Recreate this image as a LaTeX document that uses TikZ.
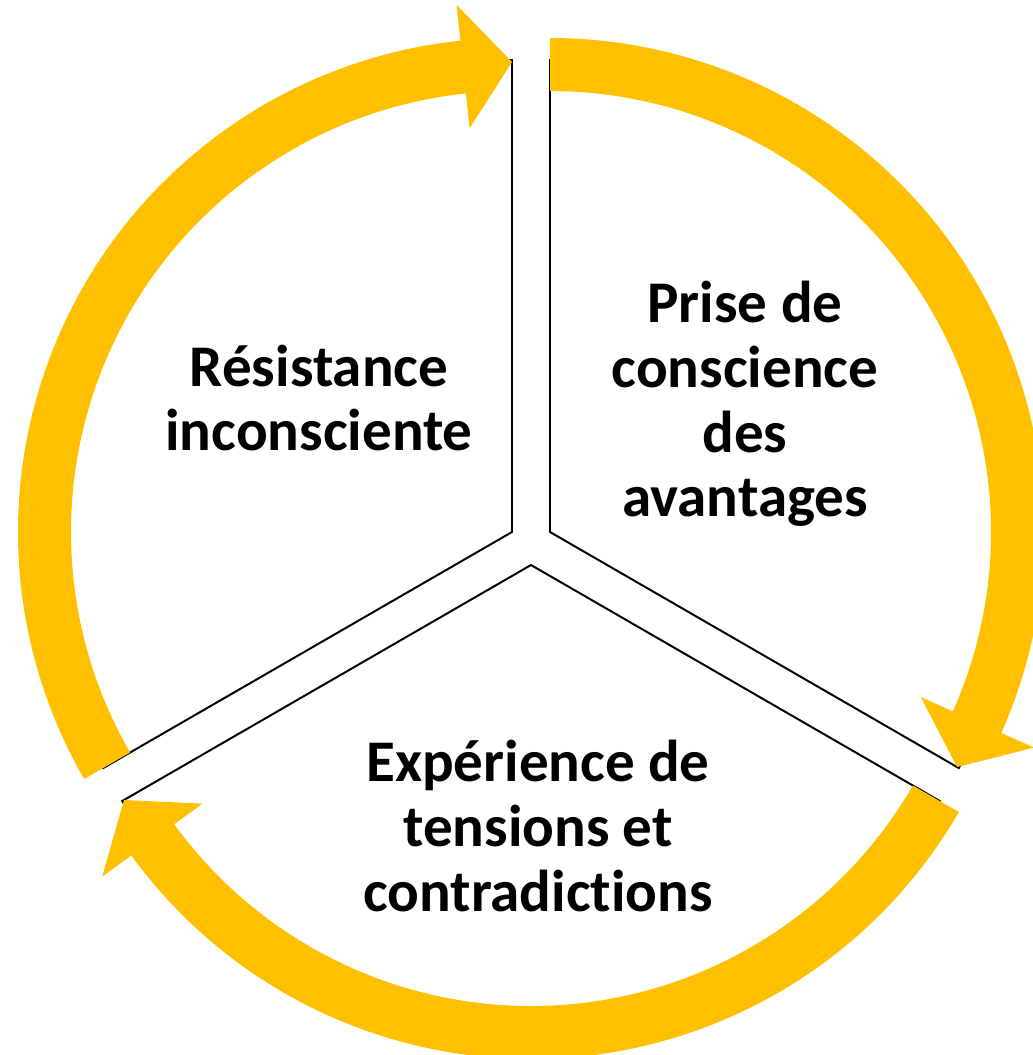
\documentclass[tikz,border=0pt]{standalone}
\usepackage{fontspec}
\setmainfont{Carlito}[Ligatures=NoCommon]
\usetikzlibrary{calc}
\definecolor{cyclegold}{RGB}{255,192,0}

\begin{document}
\begin{tikzpicture}[
    x=0.025cm, y=0.025cm,
    sector/.style={draw=black, line width=1.4pt, fill=white, line join=miter},
    band/.style={fill=cyclegold},
    label/.style={align=center, inner sep=0pt,
        font=\fontsize{42}{46}\selectfont\bfseries}
]
    \clip (0,0) rectangle (1033,-1055);
    \coordinate (cL) at (512,-532);
    \coordinate (cR) at (550,-532);
    \coordinate (cB) at (531,-565);
    % sectors
    \draw[sector] (cL) -- ++(90:472) arc[start angle=90, end angle=210, radius=472] -- cycle;
    \draw[sector] (cR) -- ++(90:472) arc[start angle=90, end angle=-30, radius=472] -- cycle;
    \draw[sector] (cB) -- ++(210:472) arc[start angle=210, end angle=330, radius=472] -- cycle;
    % arrows
    \fill[band, shift={(cL)}] (210:494) arc[start angle=210, end angle=96, radius=494]
        -- (96:530) -- (90:470) -- (96:406) -- (96:441)
        arc[start angle=96, end angle=210, radius=441] -- cycle;
    \fill[band, shift={(cR)}] (90:494) arc[start angle=90, end angle=-24, radius=494]
        -- (-24:530) -- (-30:470) -- (-24:406) -- (-24:441)
        arc[start angle=-24, end angle=90, radius=441] -- cycle;
    \fill[band, shift={(cB)}] (330:494) arc[start angle=330, end angle=216, radius=494]
        -- (216:530) -- (210:470) -- (216:406) -- (216:441)
        arc[start angle=216, end angle=330, radius=441] -- cycle;
    % labels
    \node[label] (resist) at (319,-398) {Résistance\\inconsciente};
    \node[label] (prise) at (745,-404) {Prise de\\conscience\\des\\avantages};
    \node[label] (tension) at (538,-826) {Expérience de\\tensions et\\contradictions};
\end{tikzpicture}
\end{document}
